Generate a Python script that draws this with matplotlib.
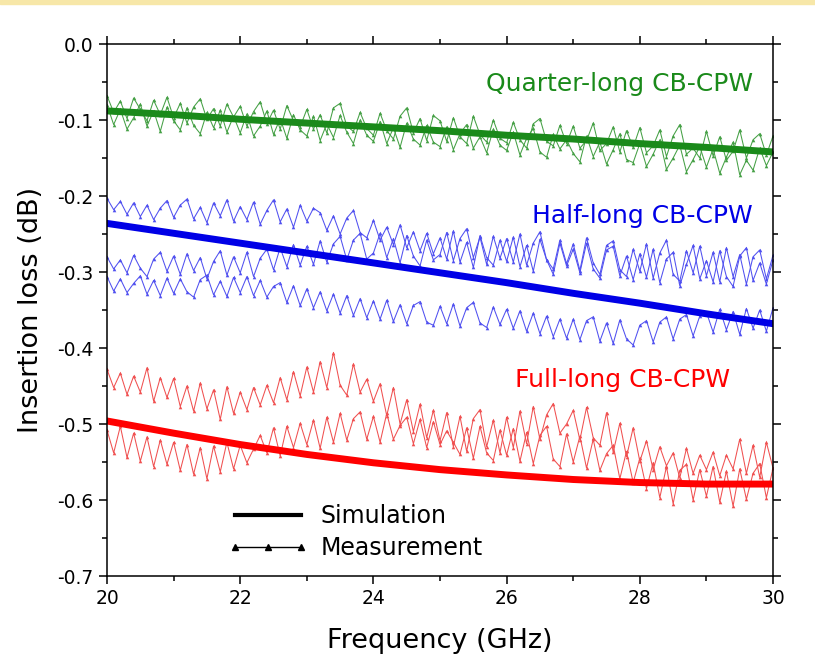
import matplotlib
matplotlib.use("Agg")
import matplotlib.pyplot as plt
from matplotlib.lines import Line2D
from matplotlib.patches import Rectangle
from matplotlib.ticker import MultipleLocator
import numpy as np

# frequency axis of the measurement sweeps (GHz)
freq = np.linspace(20, 30, 101)

# simulated insertion loss (dB) at 1 GHz steps
sim_freq = [20, 21, 22, 23, 24, 25, 26, 27, 28, 29, 30]
sim_quarter = [-0.088, -0.093, -0.099, -0.104, -0.109, -0.114, -0.120, -0.125, -0.131, -0.136, -0.142]
sim_half = [-0.236, -0.249, -0.262, -0.275, -0.288, -0.301, -0.314, -0.328, -0.341, -0.355, -0.368]
sim_full = [-0.496, -0.512, -0.527, -0.540, -0.551, -0.560, -0.567, -0.573, -0.577, -0.579, -0.579]

meas_quarter_a = [
    -0.068, -0.090, -0.075, -0.098, -0.071, -0.086, -0.101, -0.074, -0.093, -0.070,
    -0.097, -0.078, -0.104, -0.083, -0.072, -0.099, -0.085, -0.108, -0.079, -0.096,
    -0.082, -0.108, -0.089, -0.076, -0.105, -0.087, -0.112, -0.081, -0.101, -0.109,
    -0.086, -0.112, -0.093, -0.117, -0.084, -0.078, -0.108, -0.115, -0.090, -0.111,
    -0.120, -0.091, -0.114, -0.125, -0.095, -0.084, -0.117, -0.098, -0.127, -0.094,
    -0.101, -0.128, -0.097, -0.122, -0.131, -0.095, -0.119, -0.129, -0.100, -0.124,
    -0.130, -0.103, -0.126, -0.137, -0.105, -0.098, -0.128, -0.134, -0.107, -0.131,
    -0.108, -0.137, -0.127, -0.104, -0.140, -0.131, -0.109, -0.142, -0.114, -0.136,
    -0.110, -0.143, -0.134, -0.113, -0.148, -0.121, -0.106, -0.145, -0.137, -0.150,
    -0.115, -0.147, -0.122, -0.153, -0.141, -0.113, -0.150, -0.126, -0.118, -0.146,
    -0.121]
meas_quarter_b = [
    -0.080, -0.106, -0.086, -0.112, -0.097, -0.079, -0.108, -0.088, -0.115, -0.083,
    -0.101, -0.113, -0.084, -0.107, -0.118, -0.090, -0.110, -0.087, -0.116, -0.095,
    -0.117, -0.092, -0.121, -0.108, -0.088, -0.119, -0.098, -0.124, -0.093, -0.113,
    -0.121, -0.095, -0.127, -0.105, -0.123, -0.094, -0.116, -0.131, -0.100, -0.120,
    -0.128, -0.102, -0.131, -0.110, -0.136, -0.104, -0.125, -0.133, -0.107, -0.129,
    -0.135, -0.109, -0.139, -0.118, -0.106, -0.137, -0.122, -0.143, -0.112, -0.133,
    -0.140, -0.116, -0.146, -0.124, -0.111, -0.142, -0.149, -0.119, -0.138, -0.126,
    -0.144, -0.155, -0.121, -0.148, -0.129, -0.158, -0.139, -0.118, -0.152, -0.156,
    -0.131, -0.161, -0.145, -0.126, -0.165, -0.150, -0.133, -0.168, -0.152, -0.135,
    -0.162, -0.138, -0.170, -0.149, -0.129, -0.172, -0.153, -0.166, -0.137, -0.160,
    -0.142]
meas_half_a = [
    -0.203, -0.218, -0.207, -0.224, -0.209, -0.227, -0.212, -0.231, -0.216, -0.206,
    -0.228, -0.212, -0.204, -0.230, -0.215, -0.235, -0.209, -0.226, -0.205, -0.233,
    -0.214, -0.231, -0.208, -0.237, -0.219, -0.205, -0.234, -0.217, -0.241, -0.212,
    -0.233, -0.216, -0.222, -0.245, -0.226, -0.250, -0.229, -0.219, -0.248, -0.255,
    -0.232, -0.258, -0.241, -0.264, -0.238, -0.268, -0.247, -0.272, -0.249, -0.276,
    -0.255, -0.283, -0.246, -0.287, -0.261, -0.294, -0.252, -0.281, -0.291, -0.258,
    -0.286, -0.254, -0.293, -0.265, -0.299, -0.257, -0.284, -0.303, -0.262, -0.292,
    -0.270, -0.301, -0.262, -0.296, -0.308, -0.271, -0.266, -0.305, -0.279, -0.310,
    -0.276, -0.307, -0.270, -0.314, -0.283, -0.274, -0.318, -0.290, -0.265, -0.309,
    -0.285, -0.313, -0.272, -0.306, -0.319, -0.279, -0.268, -0.311, -0.288, -0.316,
    -0.284]
meas_half_b = [
    -0.280, -0.296, -0.284, -0.301, -0.278, -0.295, -0.306, -0.283, -0.274, -0.299,
    -0.279, -0.303, -0.276, -0.298, -0.281, -0.309, -0.286, -0.272, -0.304, -0.280,
    -0.301, -0.274, -0.306, -0.282, -0.270, -0.297, -0.268, -0.293, -0.264, -0.291,
    -0.266, -0.290, -0.259, -0.287, -0.263, -0.253, -0.284, -0.258, -0.249, -0.283,
    -0.275, -0.249, -0.281, -0.256, -0.288, -0.252, -0.279, -0.292, -0.258, -0.284,
    -0.277, -0.248, -0.285, -0.256, -0.243, -0.281, -0.254, -0.290, -0.253, -0.282,
    -0.256, -0.287, -0.250, -0.291, -0.262, -0.247, -0.284, -0.296, -0.258, -0.289,
    -0.263, -0.298, -0.255, -0.288, -0.303, -0.265, -0.259, -0.297, -0.306, -0.270,
    -0.299, -0.263, -0.308, -0.275, -0.258, -0.303, -0.312, -0.272, -0.301, -0.266,
    -0.305, -0.274, -0.313, -0.268, -0.306, -0.277, -0.316, -0.280, -0.271, -0.309,
    -0.278]
meas_half_c = [
    -0.306, -0.325, -0.309, -0.327, -0.315, -0.305, -0.329, -0.311, -0.331, -0.308,
    -0.328, -0.309, -0.326, -0.333, -0.310, -0.304, -0.330, -0.312, -0.332, -0.307,
    -0.327, -0.306, -0.331, -0.311, -0.333, -0.319, -0.314, -0.340, -0.318, -0.344,
    -0.322, -0.347, -0.326, -0.351, -0.329, -0.354, -0.331, -0.357, -0.335, -0.360,
    -0.338, -0.362, -0.337, -0.365, -0.343, -0.368, -0.344, -0.339, -0.366, -0.370,
    -0.345, -0.368, -0.342, -0.371, -0.347, -0.340, -0.367, -0.373, -0.346, -0.369,
    -0.349, -0.374, -0.351, -0.378, -0.354, -0.381, -0.358, -0.385, -0.362, -0.387,
    -0.362, -0.389, -0.364, -0.359, -0.391, -0.367, -0.394, -0.363, -0.388, -0.396,
    -0.370, -0.364, -0.392, -0.366, -0.359, -0.388, -0.362, -0.356, -0.384, -0.358,
    -0.353, -0.379, -0.349, -0.376, -0.352, -0.382, -0.348, -0.374, -0.350, -0.378,
    -0.347]
meas_full_a = [
    -0.428, -0.452, -0.433, -0.461, -0.437, -0.458, -0.426, -0.470, -0.439, -0.465,
    -0.440, -0.477, -0.450, -0.483, -0.446, -0.480, -0.455, -0.494, -0.451, -0.486,
    -0.458, -0.481, -0.452, -0.475, -0.449, -0.472, -0.439, -0.468, -0.431, -0.463,
    -0.425, -0.458, -0.418, -0.452, -0.406, -0.449, -0.462, -0.421, -0.458, -0.441,
    -0.470, -0.447, -0.489, -0.452, -0.500, -0.468, -0.510, -0.474, -0.518, -0.482,
    -0.522, -0.485, -0.530, -0.490, -0.536, -0.493, -0.481, -0.530, -0.495, -0.538,
    -0.491, -0.531, -0.483, -0.526, -0.477, -0.520, -0.488, -0.473, -0.512, -0.500,
    -0.482, -0.521, -0.478, -0.518, -0.528, -0.485, -0.537, -0.499, -0.543, -0.505,
    -0.549, -0.522, -0.560, -0.530, -0.555, -0.538, -0.571, -0.532, -0.565, -0.541,
    -0.560, -0.537, -0.568, -0.541, -0.559, -0.520, -0.565, -0.528, -0.570, -0.524,
    -0.558]
meas_full_b = [
    -0.508, -0.538, -0.503, -0.544, -0.512, -0.549, -0.517, -0.556, -0.521, -0.553,
    -0.524, -0.561, -0.527, -0.566, -0.531, -0.572, -0.529, -0.563, -0.524, -0.559,
    -0.528, -0.551, -0.533, -0.515, -0.538, -0.505, -0.542, -0.503, -0.531, -0.499,
    -0.527, -0.495, -0.532, -0.491, -0.524, -0.486, -0.521, -0.493, -0.484, -0.520,
    -0.490, -0.524, -0.486, -0.520, -0.502, -0.491, -0.526, -0.494, -0.531, -0.497,
    -0.527, -0.509, -0.524, -0.540, -0.505, -0.545, -0.503, -0.538, -0.548, -0.508,
    -0.541, -0.506, -0.549, -0.511, -0.552, -0.515, -0.503, -0.546, -0.556, -0.513,
    -0.550, -0.516, -0.558, -0.520, -0.561, -0.539, -0.528, -0.572, -0.536, -0.577,
    -0.545, -0.585, -0.551, -0.597, -0.556, -0.605, -0.561, -0.553, -0.600, -0.560,
    -0.595, -0.556, -0.603, -0.562, -0.608, -0.559, -0.599, -0.565, -0.552, -0.597,
    -0.558]

ytick_values = [-0.7, -0.6, -0.5, -0.4, -0.3, -0.2, -0.1, 0.0]
ytick_labels = ["-0.7", "-0.6", "-0.5", "-0.4", "-0.3", "-0.2", "-0.1", "0.0"]

green_meas, green_sim = "#45a045", "#1a8a1a"
blue_meas, blue_sim = "#5050f0", "#0000e6"
red_meas, red_sim = "#f05050", "#ff0000"

fig = plt.figure(figsize=(8.15, 6.67), dpi=100)
fig.patches.append(Rectangle((0, 0.994), 1, 0.006, transform=fig.transFigure,
                             color="#f7e7a8", zorder=0))
ax = fig.add_axes([0.1313, 0.1364, 0.8172, 0.7976])

mk = dict(lw=0.75, marker="^", ms=2.6, mew=0)
for ys in (meas_quarter_a, meas_quarter_b):
    ax.plot(freq, ys, color=green_meas, **mk)
for ys in (meas_half_a, meas_half_b, meas_half_c):
    ax.plot(freq, ys, color=blue_meas, **mk)
for ys in (meas_full_a, meas_full_b):
    ax.plot(freq, ys, color=red_meas, **mk)

ax.plot(sim_freq, sim_quarter, color=green_sim, lw=5)
ax.plot(sim_freq, sim_half, color=blue_sim, lw=5)
ax.plot(sim_freq, sim_full, color=red_sim, lw=5)

ax.text(29.7, -0.052, "Quarter-long CB-CPW", color=green_sim, fontsize=18, ha="right", va="center")
ax.text(29.7, -0.226, "Half-long CB-CPW", color=blue_sim, fontsize=18, ha="right", va="center")
ax.text(29.35, -0.442, "Full-long CB-CPW", color=red_sim, fontsize=18, ha="right", va="center")

handles = [Line2D([], [], color="black", lw=3),
           Line2D([], [], color="black", lw=1, marker="^", ms=4.5)]
ax.legend(handles, ["Simulation", "Measurement"], loc="lower left",
          bbox_to_anchor=(0.15, -0.01), frameon=False, fontsize=17,
          handlelength=3.4, numpoints=3, labelspacing=0.35, handletextpad=0.5)

ax.set_xlim(20, 30)
ax.set_ylim(-0.7, 0.0)
ax.xaxis.set_major_locator(MultipleLocator(2))
ax.xaxis.set_minor_locator(MultipleLocator(1))
ax.yaxis.set_minor_locator(MultipleLocator(0.05))
ax.set_yticks(ytick_values)
ax.set_yticklabels(ytick_labels)
ax.tick_params(which="both", direction="out", top=True, right=True, width=1.1, labelsize=13.5)
ax.tick_params(which="major", length=6)
ax.tick_params(which="minor", length=3.5)
for s in ax.spines.values():
    s.set_linewidth(1.1)

ax.set_xlabel("Frequency (GHz)", fontsize=19.5, labelpad=14)
ax.set_ylabel("Insertion loss (dB)", fontsize=19.5, labelpad=10)

fig.savefig("out.png", dpi=100)
